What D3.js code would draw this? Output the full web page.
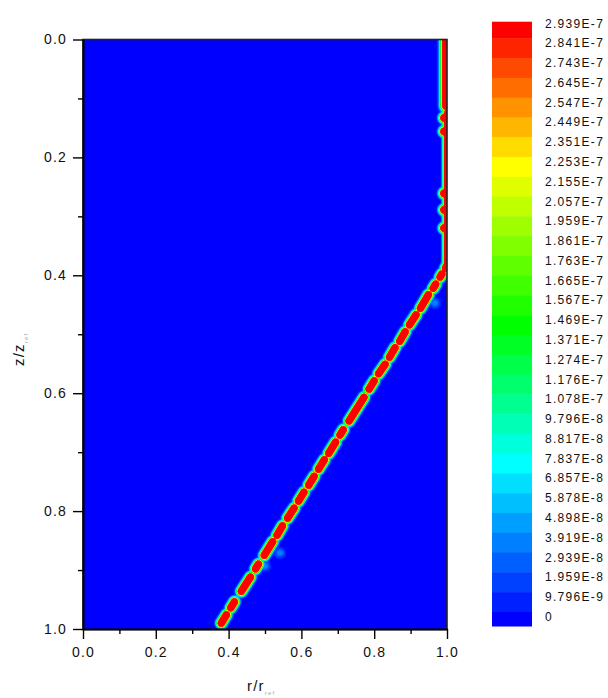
<!DOCTYPE html>
<html>
<head>
<meta charset="utf-8">
<script src="https://cdn.jsdelivr.net/npm/d3@7"></script>
<style>
body { margin: 0; background: #ffffff; }
text { font-family: "Liberation Sans", Arial, sans-serif; }
</style>
</head>
<body>
<script>
// contour levels of the legend, low to high
var levels = [0, 9.796e-9, 1.959e-8, 2.939e-8, 3.919e-8, 4.898e-8, 5.878e-8, 6.857e-8,
              7.837e-8, 8.817e-8, 9.796e-8, 1.078e-7, 1.176e-7, 1.274e-7, 1.371e-7, 1.469e-7,
              1.567e-7, 1.665e-7, 1.763e-7, 1.861e-7, 1.959e-7, 2.057e-7, 2.155e-7, 2.253e-7,
              2.351e-7, 2.449e-7, 2.547e-7, 2.645e-7, 2.743e-7, 2.841e-7, 2.939e-7];
var levelLabels = ["0", "9.796E-9", "1.959E-8", "2.939E-8", "3.919E-8", "4.898E-8", "5.878E-8", "6.857E-8",
                   "7.837E-8", "8.817E-8", "9.796E-8", "1.078E-7", "1.176E-7", "1.274E-7", "1.371E-7", "1.469E-7",
                   "1.567E-7", "1.665E-7", "1.763E-7", "1.861E-7", "1.959E-7", "2.057E-7", "2.155E-7", "2.253E-7",
                   "2.351E-7", "2.449E-7", "2.547E-7", "2.645E-7", "2.743E-7", "2.841E-7", "2.939E-7"];

// rainbow stops (values taken from the legend)
var colorStops = [0, 7.837e-8, 1.469e-7, 2.253e-7, 2.939e-7];
var colorRange = ["#0000ff", "#00ffff", "#00ff00", "#ffff00", "#ff0000"];

// red cores of the inclined front, [r1, z1, r2, z2]
var frontCores = [
    [0.380, 0.990, 0.394, 0.976],
    [0.406, 0.964, 0.416, 0.954],
    [0.435, 0.936, 0.460, 0.912],
    [0.474, 0.898, 0.482, 0.890],
    [0.498, 0.875, 0.521, 0.852],
    [0.533, 0.841, 0.548, 0.825],
    [0.562, 0.812, 0.580, 0.795],
    [0.592, 0.783, 0.607, 0.768],
    [0.620, 0.756, 0.635, 0.741],
    [0.647, 0.729, 0.663, 0.713],
    [0.675, 0.702, 0.694, 0.683],
    [0.706, 0.671, 0.715, 0.662],
    [0.731, 0.647, 0.772, 0.607],
    [0.786, 0.593, 0.800, 0.579],
    [0.812, 0.567, 0.830, 0.551],
    [0.842, 0.539, 0.857, 0.523],
    [0.870, 0.512, 0.885, 0.496],
    [0.897, 0.484, 0.915, 0.467],
    [0.927, 0.456, 0.949, 0.433],
    [0.962, 0.422, 0.969, 0.415],
    [0.981, 0.403, 0.986, 0.398],
    [0.996, 0.388, 1.000, 0.384]
];
// layer along the outer wall r = 1, thick part then thin part
var wallThick = [1.0, -0.02, 1.0, 0.112];
var wallThin = [1.0, 0.125, 1.0, 0.385];
var wallBumps = [[0.992, 0.133], [0.992, 0.156], [0.992, 0.261], [0.992, 0.289], [0.992, 0.320]];
// faint spots beside the front
var halos = [[0.541, 0.871], [0.500, 0.893], [0.967, 0.447]];
var peakValue = 7.1e-7,
    haloValue = 5.0e-8;

var majorTicks = [0, 0.2, 0.4, 0.6, 0.8, 1.0],
    minorTicks = [0.1, 0.3, 0.5, 0.7, 0.9];

var width = 608,
    height = 698,
    plotLeft = 83, plotRight = 447, plotTop = 39.5, plotBottom = 629;

var svg = d3.select("body").append("svg")
    .attr("width", width)
    .attr("height", height);

var x = d3.scaleLinear().domain([0, 1]).range([plotLeft, plotRight]);
var y = d3.scaleLinear().domain([0, 1]).range([plotTop, plotBottom]);
var color = d3.scaleLinear().domain(colorStops).range(colorRange);

// build the field on a 1px grid
var nx = Math.round(plotRight - plotLeft),
    ny = Math.round(plotBottom - plotTop);
var field = new Float64Array(nx * ny);

function addCapsule(r1, z1, r2, z2, peak, s) {
    var ax = x(r1) - plotLeft, ay = y(z1) - plotTop,
        bx = x(r2) - plotLeft, by = y(z2) - plotTop;
    var pad = 4 * s;
    var i0 = Math.max(0, Math.floor(Math.min(ax, bx) - pad)),
        i1 = Math.min(nx - 1, Math.ceil(Math.max(ax, bx) + pad)),
        j0 = Math.max(0, Math.floor(Math.min(ay, by) - pad)),
        j1 = Math.min(ny - 1, Math.ceil(Math.max(ay, by) + pad));
    var dx = bx - ax, dy = by - ay, L2 = dx * dx + dy * dy;
    for (var j = j0; j <= j1; j++) {
        for (var i = i0; i <= i1; i++) {
            var px = i + 0.5, py = j + 0.5;
            var t = L2 ? ((px - ax) * dx + (py - ay) * dy) / L2 : 0;
            t = Math.max(0, Math.min(1, t));
            var ex = ax + t * dx - px, ey = ay + t * dy - py;
            var v = peak * Math.exp(-(ex * ex + ey * ey) / (s * s));
            var k = j * nx + i;
            if (v > field[k]) field[k] = v;
        }
    }
}

frontCores.forEach(function(c) { addCapsule(c[0], c[1], c[2], c[3], peakValue, 3.7); });
addCapsule(wallThick[0], wallThick[1], wallThick[2], wallThick[3], peakValue, 5.0);
addCapsule(wallThin[0], wallThin[1], wallThin[2], wallThin[3], peakValue, 3.1);
wallBumps.forEach(function(b) { addCapsule(b[0], b[1], b[0], b[1], peakValue, 3.9); });
halos.forEach(function(h) { addCapsule(h[0], h[1], h[0], h[1], haloValue, 5); });

var contours = d3.contours()
    .size([nx, ny])
    .thresholds(levels)(Array.from(field));

svg.append("defs").append("clipPath").attr("id", "plotClip")
    .append("rect")
    .attr("width", nx).attr("height", ny);

svg.append("rect")
    .attr("x", plotLeft).attr("y", plotTop)
    .attr("width", nx).attr("height", ny)
    .attr("fill", color(0));

svg.append("g")
    .attr("transform", "translate(" + plotLeft + "," + plotTop + ")")
    .attr("clip-path", "url(#plotClip)")
    .selectAll("path")
    .data(contours)
    .enter().append("path")
    .attr("d", d3.geoPath())
    .attr("fill", function(d) { return color(d.value); });

// frame
svg.append("rect")
    .attr("x", plotLeft).attr("y", plotTop)
    .attr("width", nx).attr("height", ny)
    .attr("fill", "none")
    .attr("stroke", "#222")
    .attr("stroke-width", 1.6);

// axes
var fmt = d3.format(".1f");
function styleAxis(g) {
    g.select(".domain").attr("stroke", "#000").attr("stroke-width", 1.6);
    g.selectAll(".tick line").attr("stroke", "#000").attr("stroke-width", 1.4);
    g.selectAll("text")
        .attr("font-family", "Liberation Sans, Arial, sans-serif")
        .attr("font-size", 14)
        .attr("letter-spacing", "1.2px")
        .attr("fill", "#111");
}

svg.append("g").attr("transform", "translate(0," + plotBottom + ")")
    .call(d3.axisBottom(x).tickValues(minorTicks).tickSize(5).tickSizeOuter(0).tickFormat(""))
    .call(styleAxis);
svg.append("g").attr("transform", "translate(0," + plotBottom + ")")
    .call(d3.axisBottom(x).tickValues(majorTicks).tickSize(10).tickSizeOuter(0).tickPadding(8).tickFormat(fmt))
    .call(styleAxis);
svg.append("g").attr("transform", "translate(" + plotLeft + ",0)")
    .call(d3.axisLeft(y).tickValues(minorTicks).tickSize(5).tickSizeOuter(0).tickFormat(""))
    .call(styleAxis);
svg.append("g").attr("transform", "translate(" + plotLeft + ",0)")
    .call(d3.axisLeft(y).tickValues(majorTicks).tickSize(10).tickSizeOuter(0).tickPadding(6).tickFormat(fmt))
    .call(styleAxis);

// axis titles
var xt = svg.append("text")
    .attr("x", 247).attr("y", 691)
    .attr("font-size", 15).attr("letter-spacing", "1.2px").attr("fill", "#111")
    .text("r/r");
xt.append("tspan").attr("dy", 4).attr("font-size", 6).attr("fill", "#aaa").text("ref");

var yt = svg.append("text")
    .attr("transform", "translate(24,366) rotate(-90)")
    .attr("font-size", 15).attr("letter-spacing", "1.2px").attr("fill", "#111")
    .text("z/z");
yt.append("tspan").attr("dy", 4).attr("font-size", 6).attr("fill", "#aaa").text("ref");

// legend
var legendY = d3.scaleLinear().domain([0, 30]).range([23.3, 616.7]);
var legendRows = levels.slice().reverse();
var legendText = levelLabels.slice().reverse();
var legend = svg.append("g");

legend.selectAll("rect")
    .data(legendRows)
    .enter().append("rect")
    .attr("x", 492)
    .attr("width", 40)
    .attr("y", function(d, i) { return i === 0 ? 21.7 : legendY(i) - 4.8; })
    .attr("height", function(d, i) {
        var y0 = i === 0 ? 21.7 : legendY(i) - 4.8,
            y1 = i === 30 ? 626 : legendY(i + 1) - 4.8;
        return y1 - y0 + 0.5;
    })
    .attr("fill", function(d) { return color(d); });

legend.selectAll("text")
    .data(legendText)
    .enter().append("text")
    .attr("x", 545)
    .attr("y", function(d, i) { return legendY(i); })
    .attr("dy", "0.35em")
    .attr("font-size", 12)
    .attr("letter-spacing", "1.3px")
    .attr("fill", "#111")
    .text(function(d) { return d; });
</script>
</body>
</html>
